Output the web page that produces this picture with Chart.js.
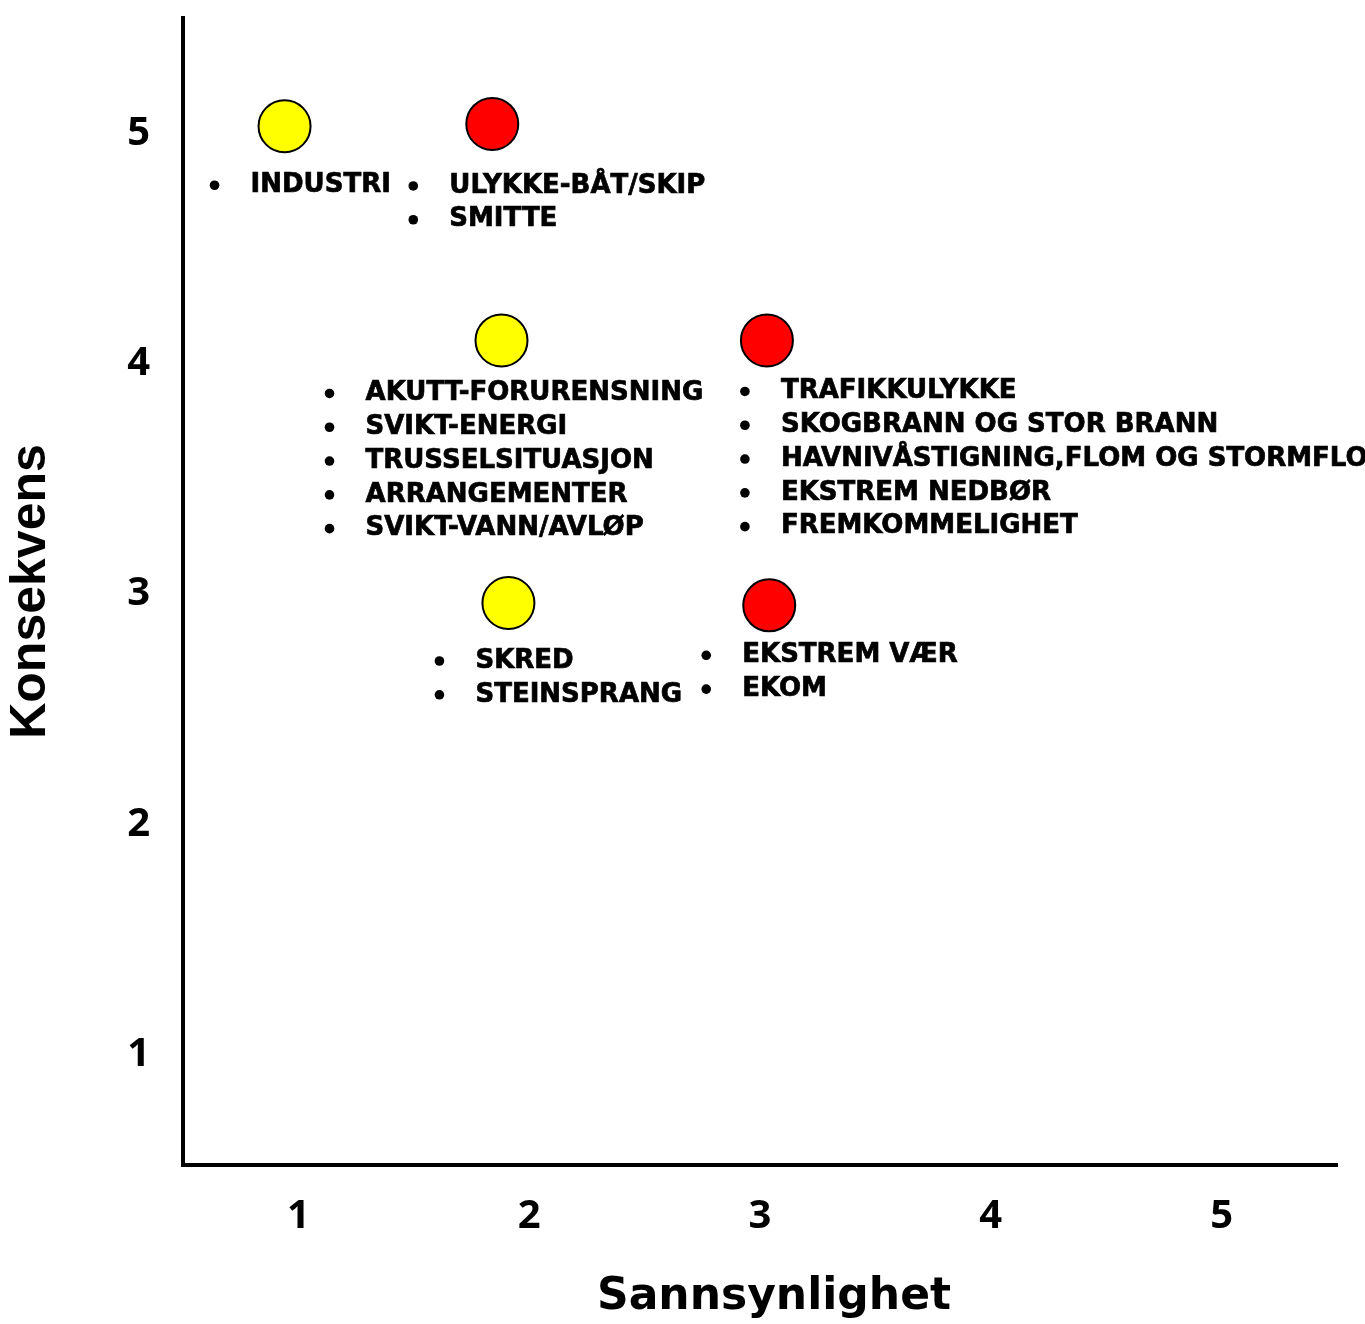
<!DOCTYPE html>
<html>
<head>
<meta charset="utf-8">
<script src="https://cdn.jsdelivr.net/npm/chart.js@4.4.1/dist/chart.umd.min.js"></script>
<style>
    html, body { margin: 0; padding: 0; background: #fff; }
    #wrap { width: 1365px; height: 1324px; }
</style>
</head>
<body>
<div id="wrap"><canvas id="riskChart" width="1365" height="1324"></canvas></div>
<script>
// Data
var sannsynlighet = [0.94, 1.84, 1.88, 3.03, 1.91, 3.04];
var konsekvens    = [5.03, 5.04, 4.10, 4.10, 2.96, 2.95];
var risikoNivaa   = ['middels', 'hoy', 'middels', 'hoy', 'middels', 'hoy'];
var hendelser = [
    ['INDUSTRI'],
    ['ULYKKE-BÅT/SKIP', 'SMITTE'],
    ['AKUTT-FORURENSNING', 'SVIKT-ENERGI', 'TRUSSELSITUASJON', 'ARRANGEMENTER', 'SVIKT-VANN/AVLØP'],
    ['TRAFIKKULYKKE', 'SKOGBRANN OG STOR BRANN', 'HAVNIVÅSTIGNING,FLOM OG STORMFLO', 'EKSTREM NEDBØR', 'FREMKOMMELIGHET'],
    ['SKRED', 'STEINSPRANG'],
    ['EKSTREM VÆR', 'EKOM']
];
var xTicks = [1, 2, 3, 4, 5];
var yTicks = [1, 2, 3, 4, 5];
var xTittel = 'Sannsynlighet';
var yTittel = 'Konsekvens';

// Layout of the text lists, relative to the circle (px)
var listBulletDx = [-70, -79, -172, -22, -69, -63];
var listDy       = [59, 62, 53, 51, 58, 50];

var farger = { middels: '#ffff00', hoy: '#ff0000' };

var punkter = sannsynlighet.map(function(x, i) {
    return { x: x, y: konsekvens[i] };
});

function nullPadding(scale) {
    scale.paddingLeft = 0;
    scale.paddingRight = 0;
    scale.paddingTop = 0;
    scale.paddingBottom = 0;
}

// Draws the bullet lists under each circle, and the x title
var listePlugin = {
    id: 'liste',
    afterDatasetsDraw: function(chart) {
        var ctx = chart.ctx;
        var meta = chart.getDatasetMeta(0);
        ctx.save();
        ctx.fillStyle = '#000';
        ctx.strokeStyle = '#000';
        ctx.lineWidth = 0.7;
        ctx.font = 'bold 26px "DejaVu Sans"';
        ctx.textBaseline = 'middle';
        ctx.textAlign = 'left';
        meta.data.forEach(function(pt, i) {
            var bx = pt.x + listBulletDx[i];
            var y0 = pt.y + listDy[i];
            hendelser[i].forEach(function(txt, j) {
                var y = y0 + j * 33.8;
                ctx.beginPath();
                ctx.arc(bx, y, 4.8, 0, Math.PI * 2);
                ctx.fill();
                ctx.fillText(txt, bx + 36, y);
                ctx.strokeText(txt, bx + 36, y);
            });
        });

        // x axis title, a little right of the centre as in the original
        var area = chart.chartArea;
        ctx.font = 'bold 44px "DejaVu Sans"';
        ctx.textAlign = 'center';
        ctx.fillText(xTittel, (area.left + area.right) / 2 + 14, 1298);
        ctx.restore();
    }
};

var tickFont = { family: 'Open Sans', size: 40, weight: 'bold', lineHeight: 1 };

var ctx = document.getElementById('riskChart').getContext('2d');
var riskChart = new Chart(ctx, {
    type: 'scatter',
    data: {
        datasets: [{
            data: punkter,
            backgroundColor: risikoNivaa.map(function(n) { return farger[n]; }),
            borderColor: '#000',
            borderWidth: 2,
            pointRadius: 26,
            pointHoverRadius: 26
        }]
    },
    options: {
        responsive: false,
        animation: false,
        devicePixelRatio: 1,
        layout: {
            autoPadding: false,
            padding: { left: 0, top: 18, right: 28, bottom: 0 }
        },
        plugins: {
            legend: { display: false },
            tooltip: { enabled: false }
        },
        scales: {
            x: {
                type: 'linear',
                min: 0.5,
                max: 5.5,
                afterFit: function(scale) {
                    scale.height = 159;
                    nullPadding(scale);
                },
                afterBuildTicks: function(scale) {
                    scale.ticks = xTicks.map(function(v) { return { value: v }; });
                },
                grid: { display: false, drawTicks: false },
                border: { display: true, color: '#000', width: 4 },
                ticks: {
                    padding: 32,
                    color: '#000',
                    font: tickFont
                },
                title: { display: false }
            },
            y: {
                type: 'linear',
                min: 0.52,
                max: 5.5,
                afterFit: function(scale) {
                    scale.width = 183;
                    nullPadding(scale);
                },
                afterBuildTicks: function(scale) {
                    scale.ticks = yTicks.map(function(v) { return { value: v }; });
                },
                grid: { display: false, drawTicks: false },
                border: { display: true, color: '#000', width: 4 },
                ticks: {
                    padding: 33,
                    color: '#000',
                    font: tickFont
                },
                title: {
                    display: true,
                    text: yTittel,
                    color: '#000',
                    padding: { top: 1, bottom: 0 },
                    font: { family: 'Liberation Sans', size: 50, weight: 'bold' }
                }
            }
        }
    },
    plugins: [listePlugin]
});
</script>
</body>
</html>
